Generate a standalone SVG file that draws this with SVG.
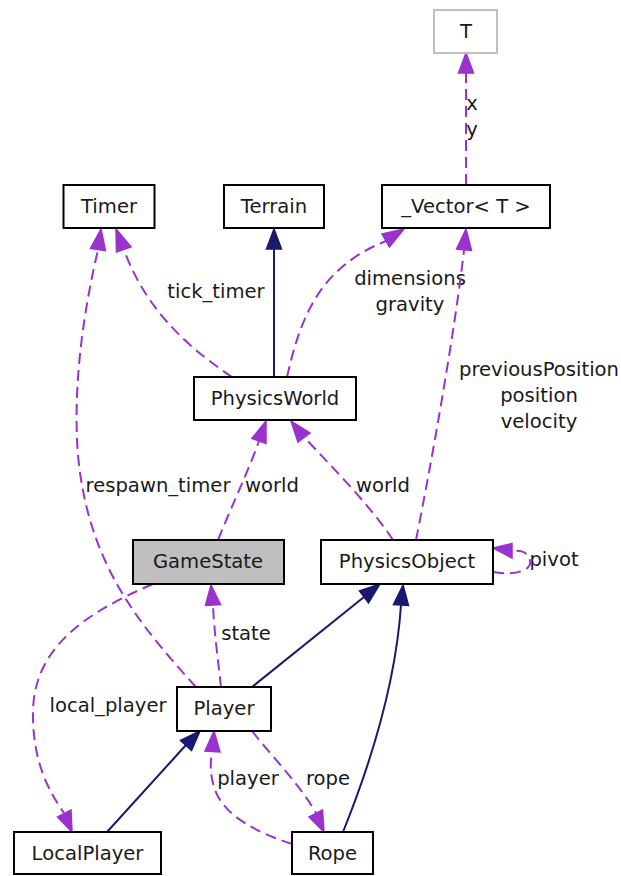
<svg xmlns="http://www.w3.org/2000/svg" width="621" height="876" viewBox="0 0 621 876">
<style>
.box{fill:#ffffff;stroke:#000000;stroke-width:2}
.t{font-family:"DejaVu Sans",sans-serif;font-size:19.6px;fill:#1a1a1a;text-anchor:middle}
.u{fill:none;stroke:#9a32cd;stroke-width:2;stroke-dasharray:11,6}
.i{fill:none;stroke:#191970;stroke-width:2}
.ua{fill:#9a32cd;stroke:#9a32cd;stroke-width:1.5}
.ia{fill:#191970;stroke:#191970;stroke-width:1.5}
</style>
<rect width="621" height="876" fill="#ffffff"/>
<g id="connectors">
  <!-- _Vector -> T -->
  <path class="u" d="M466,185 L466,72"/>
  <polygon class="ua" points="466,53 458.5,73 473.5,73"/>
  <text class="t" x="472" y="110">x</text>
  <text class="t" x="472" y="136">y</text>
  <!-- PhysicsWorld -> Timer tick_timer -->
  <path class="u" d="M232,377 C195,352 148,315 124,250"/>
  <polygon class="ua" points="116,229 116.5,252 131,247"/>
  <text class="t" x="216" y="298">tick_timer</text>
  <!-- PhysicsWorld -> Terrain -->
  <path class="i" d="M274,377 L274,249"/>
  <polygon class="ia" points="274,229 266.5,249 281.5,249"/>
  <!-- PhysicsWorld -> _Vector dimensions gravity -->
  <path class="u" d="M287,377 C300,320 318,268 386,241"/>
  <polygon class="ua" points="404,229 382,234 389.5,247"/>
  <text class="t" x="410" y="285">dimensions</text>
  <text class="t" x="410" y="311">gravity</text>
  <!-- PhysicsObject -> _Vector -->
  <path class="u" d="M416,540 C432,460 455,330 464,250"/>
  <polygon class="ua" points="466,229 456.5,249 471.5,250.5"/>
  <text class="t" x="539" y="376">previousPosition</text>
  <text class="t" x="539" y="402">position</text>
  <text class="t" x="539" y="428">velocity</text>
  <!-- Player -> Timer respawn_timer -->
  <path class="u" d="M196,687 C140,625 88,565 78,455 C72,380 86,300 98,250"/>
  <polygon class="ua" points="101,229 90.5,248.5 105.5,250.5"/>
  <text class="t" x="158" y="492">respawn_timer</text>
  <!-- GameState -> PhysicsWorld world -->
  <path class="u" d="M218,540 C232,505 248,472 259,441"/>
  <polygon class="ua" points="266,421 252,438.5 266,443.5"/>
  <text class="t" x="272" y="492">world</text>
  <!-- PhysicsObject -> PhysicsWorld world -->
  <path class="u" d="M393,540 C370,505 330,465 304,437"/>
  <polygon class="ua" points="291,421 298,442 310,433"/>
  <text class="t" x="383" y="492">world</text>
  <!-- PhysicsObject self pivot -->
  <path class="u" d="M493,572 C516,576 532,570 530,561 C528,552 522,550 512,551"/>
  <polygon class="ua" points="493,548 512,543.5 512,558"/>
  <text class="t" x="554" y="566">pivot</text>
  <!-- Player -> GameState state -->
  <path class="u" d="M221,687 C218,660 214,630 213,605"/>
  <polygon class="ua" points="211,585 205.5,605.5 220.5,604.5"/>
  <text class="t" x="246" y="640">state</text>
  <!-- Player -> PhysicsObject -->
  <path class="i" d="M252,687 L364,597"/>
  <polygon class="ia" points="380,584 359.5,591 368.5,603"/>
  <!-- Rope -> PhysicsObject -->
  <path class="i" d="M343,832 C372,760 396,680 401,605"/>
  <polygon class="ia" points="403,585 393.5,604.5 408.5,605.5"/>
  <!-- GameState -> LocalPlayer local_player -->
  <path class="u" d="M153,584 C80,615 35,650 33,710 C32,760 48,790 64,813"/>
  <polygon class="ua" points="72,832 57.5,817 71,810"/>
  <text class="t" x="108" y="712">local_player</text>
  <!-- LocalPlayer -> Player -->
  <path class="i" d="M107,832 L186,745"/>
  <polygon class="ia" points="200,731 180.5,740.5 191.5,750.5"/>
  <!-- Player -> Rope rope -->
  <path class="u" d="M252,731 C275,760 300,785 316,813"/>
  <polygon class="ua" points="324,832 309,817 322.5,810"/>
  <text class="t" x="328" y="785">rope</text>
  <!-- Rope -> Player player -->
  <path class="u" d="M292,844 C255,832 224,815 215,790 C210,775 210,765 212,752"/>
  <polygon class="ua" points="214,731 205,751 220,752"/>
  <text class="t" x="248" y="785">player</text>
</g>
<g id="node-T">
  <rect class="box" x="434" y="10" width="63" height="43" style="stroke:#bfbfbf"/>
  <text class="t" x="466" y="38">T</text>
</g>
<g id="node-Timer">
  <rect class="box" x="63.5" y="185" width="91" height="43"/>
  <text class="t" x="109" y="213">Timer</text>
</g>
<g id="node-Terrain">
  <rect class="box" x="224" y="185" width="100" height="43"/>
  <text class="t" x="274" y="213">Terrain</text>
</g>
<g id="node-Vector">
  <rect class="box" x="382" y="185" width="168" height="43"/>
  <text class="t" x="466" y="213">_Vector&lt; T &gt;</text>
</g>
<g id="node-PhysicsWorld">
  <rect class="box" x="194" y="377" width="162" height="43"/>
  <text class="t" x="275" y="405">PhysicsWorld</text>
</g>
<g id="node-GameState">
  <rect class="box" x="133" y="540" width="151" height="44" style="fill:#bfbfbf"/>
  <text class="t" x="208" y="568">GameState</text>
</g>
<g id="node-PhysicsObject">
  <rect class="box" x="321" y="540" width="172" height="44"/>
  <text class="t" x="407" y="568">PhysicsObject</text>
</g>
<g id="node-Player">
  <rect class="box" x="177" y="687" width="94" height="44"/>
  <text class="t" x="224" y="715">Player</text>
</g>
<g id="node-LocalPlayer">
  <rect class="box" x="14" y="832" width="147" height="42"/>
  <text class="t" x="87.5" y="860">LocalPlayer</text>
</g>
<g id="node-Rope">
  <rect class="box" x="292" y="832" width="81" height="42"/>
  <text class="t" x="332.5" y="860">Rope</text>
</g>
</svg>
